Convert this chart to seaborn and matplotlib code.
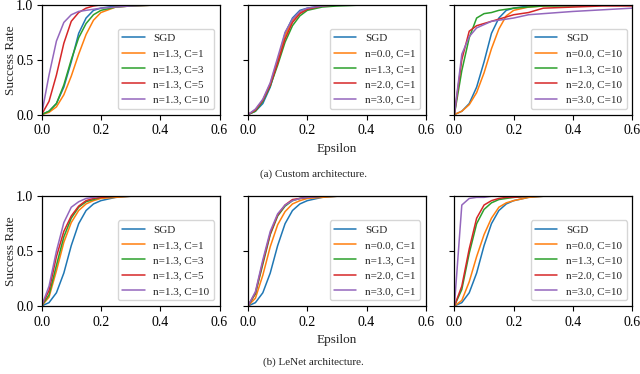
import pandas as pd
import matplotlib
matplotlib.use("Agg")
import matplotlib.pyplot as plt
import seaborn as sns

# epsilon grid shared by all curves
EPS = [0.0, 0.025, 0.05, 0.075, 0.1, 0.125, 0.15, 0.175, 0.2, 0.25, 0.3, 0.4, 0.5, 0.6]

# (a) custom architecture
custom_sgd = [0, 0.03, 0.10, 0.25, 0.48, 0.74, 0.88, 0.95, 0.97, 0.99, 1.0, 1.0, 1.0, 1.0]
custom_c1 = [0, 0.02, 0.07, 0.18, 0.35, 0.55, 0.73, 0.86, 0.93, 0.98, 0.99, 1.0, 1.0, 1.0]
custom_c3 = [0, 0.03, 0.10, 0.27, 0.50, 0.70, 0.83, 0.91, 0.95, 0.98, 0.99, 1.0, 1.0, 1.0]
custom_c5 = [0, 0.12, 0.36, 0.65, 0.85, 0.93, 0.97, 0.99, 1.0, 1.0, 1.0, 1.0, 1.0, 1.0]
custom_c10 = [0, 0.36, 0.67, 0.84, 0.91, 0.94, 0.95, 0.96, 0.97, 0.98, 0.99, 1.0, 1.0, 1.0]

custom_n0_c1 = [0, 0.04, 0.13, 0.28, 0.50, 0.72, 0.86, 0.93, 0.96, 0.99, 1.0, 1.0, 1.0, 1.0]
custom_n13_c1 = [0, 0.03, 0.12, 0.26, 0.45, 0.66, 0.81, 0.90, 0.95, 0.98, 0.99, 1.0, 1.0, 1.0]
custom_n2_c1 = [0, 0.04, 0.13, 0.27, 0.47, 0.69, 0.84, 0.92, 0.96, 0.99, 1.0, 1.0, 1.0, 1.0]
custom_n3_c1 = [0, 0.05, 0.14, 0.29, 0.52, 0.75, 0.87, 0.94, 0.97, 0.99, 1.0, 1.0, 1.0, 1.0]

custom_n0_c10 = [0, 0.03, 0.09, 0.20, 0.38, 0.60, 0.78, 0.90, 0.95, 0.98, 0.99, 1.0, 1.0, 1.0]
custom_n13_c10 = [0, 0.40, 0.70, 0.88, 0.92, 0.93, 0.95, 0.96, 0.97, 0.98, 0.99, 0.99, 1.0, 1.0]
custom_n2_c10 = [0, 0.50, 0.76, 0.81, 0.83, 0.85, 0.87, 0.89, 0.91, 0.93, 0.97, 0.98, 0.99, 0.99]
custom_n3_c10 = [0, 0.55, 0.71, 0.79, 0.82, 0.85, 0.86, 0.87, 0.88, 0.91, 0.92, 0.94, 0.955, 0.97]

# (b) LeNet architecture
lenet_sgd = [0, 0.03, 0.12, 0.30, 0.55, 0.75, 0.87, 0.93, 0.96, 0.99, 1.0, 1.0, 1.0, 1.0]
lenet_c1 = [0, 0.08, 0.32, 0.58, 0.76, 0.87, 0.93, 0.96, 0.98, 0.99, 1.0, 1.0, 1.0, 1.0]
lenet_c3 = [0, 0.10, 0.37, 0.63, 0.80, 0.90, 0.95, 0.97, 0.99, 1.0, 1.0, 1.0, 1.0, 1.0]
lenet_c5 = [0, 0.14, 0.45, 0.68, 0.82, 0.91, 0.96, 0.98, 0.99, 1.0, 1.0, 1.0, 1.0, 1.0]
lenet_c10 = [0, 0.18, 0.50, 0.76, 0.90, 0.95, 0.98, 0.99, 1.0, 1.0, 1.0, 1.0, 1.0, 1.0]

lenet_n0_c1 = [0, 0.07, 0.28, 0.54, 0.74, 0.86, 0.93, 0.96, 0.98, 0.99, 1.0, 1.0, 1.0, 1.0]
lenet_n13_c1 = [0, 0.11, 0.38, 0.65, 0.82, 0.91, 0.96, 0.98, 0.99, 1.0, 1.0, 1.0, 1.0, 1.0]
lenet_n2_c1 = [0, 0.12, 0.40, 0.66, 0.83, 0.92, 0.97, 0.98, 0.99, 1.0, 1.0, 1.0, 1.0, 1.0]
lenet_n3_c1 = [0, 0.13, 0.42, 0.68, 0.84, 0.92, 0.96, 0.98, 0.99, 1.0, 1.0, 1.0, 1.0, 1.0]

lenet_n0_c10 = [0, 0.05, 0.22, 0.45, 0.65, 0.80, 0.90, 0.94, 0.96, 0.99, 1.0, 1.0, 1.0, 1.0]
lenet_n13_c10 = [0, 0.15, 0.48, 0.75, 0.88, 0.94, 0.97, 0.98, 0.99, 1.0, 1.0, 1.0, 1.0, 1.0]
lenet_n2_c10 = [0, 0.18, 0.52, 0.80, 0.92, 0.96, 0.98, 0.99, 0.99, 1.0, 1.0, 1.0, 1.0, 1.0]
lenet_n3_c10 = [0, 0.92, 0.98, 0.99, 0.99, 1.0, 1.0, 1.0, 1.0, 1.0, 1.0, 1.0, 1.0, 1.0]

LABELS_C = ["SGD", "n=1.3, C=1", "n=1.3, C=3", "n=1.3, C=5", "n=1.3, C=10"]
LABELS_N1 = ["SGD", "n=0.0, C=1", "n=1.3, C=1", "n=2.0, C=1", "n=3.0, C=1"]
LABELS_N10 = ["SGD", "n=0.0, C=10", "n=1.3, C=10", "n=2.0, C=10", "n=3.0, C=10"]

panels = [
    (LABELS_C, [custom_sgd, custom_c1, custom_c3, custom_c5, custom_c10]),
    (LABELS_N1, [custom_sgd, custom_n0_c1, custom_n13_c1, custom_n2_c1, custom_n3_c1]),
    (LABELS_N10, [custom_sgd, custom_n0_c10, custom_n13_c10, custom_n2_c10, custom_n3_c10]),
    (LABELS_C, [lenet_sgd, lenet_c1, lenet_c3, lenet_c5, lenet_c10]),
    (LABELS_N1, [lenet_sgd, lenet_n0_c1, lenet_n13_c1, lenet_n2_c1, lenet_n3_c1]),
    (LABELS_N10, [lenet_sgd, lenet_n0_c10, lenet_n13_c10, lenet_n2_c10, lenet_n3_c10]),
]

sns.set_style("ticks")
plt.rcParams["font.family"] = ["Liberation Serif", "DejaVu Serif"]
plt.rcParams["axes.edgecolor"] = "black"
plt.rcParams["xtick.color"] = "black"
plt.rcParams["ytick.color"] = "black"

palette = sns.color_palette("tab10", 5)

fig, axes = plt.subplots(2, 3, figsize=(6.4, 3.74), dpi=100)
plt.subplots_adjust(left=0.065, right=0.988, top=0.987, bottom=0.182, wspace=0.16, hspace=0.745)

for i, (ax, (labels, series)) in enumerate(zip(axes.flat, panels)):
    rows = []
    for lab, vals in zip(labels, series):
        for e, v in zip(EPS, vals):
            rows.append({"eps": e, "rate": v, "run": lab})
    df = pd.DataFrame(rows)
    sns.lineplot(ax=ax, data=df, x="eps", y="rate", hue="run", hue_order=labels,
                 palette=palette, linewidth=1.1)
    ax.set_xlim(0, 0.6)
    ax.set_ylim(0, 1)
    ax.set_xticks([0.0, 0.2, 0.4, 0.6])
    ax.set_yticks([0.0, 0.5, 1.0])
    if i % 3 != 0:
        ax.set_yticklabels([])
    ax.tick_params(labelsize=10, width=0.8, length=3.5)
    ax.tick_params(axis="y", pad=2.5)
    for s in ax.spines.values():
        s.set_linewidth(0.9)
    ax.set_xlabel("")
    ax.set_ylabel("")
    ax.legend(loc="lower right", fontsize=8, frameon=True)

for row in range(2):
    axes[row][0].set_ylabel("Success Rate", fontsize=9.5)
    axes[row][0].yaxis.set_label_coords(-0.14, 0.5)
    axes[row][1].set_xlabel("Epsilon", fontsize=9.5, labelpad=4)

fig.text(0.49, 0.535, "(a) Custom architecture.", ha="center", va="center", fontsize=8)
fig.text(0.49, 0.032, "(b) LeNet architecture.", ha="center", va="center", fontsize=8)

plt.savefig("out.png", dpi=100)
